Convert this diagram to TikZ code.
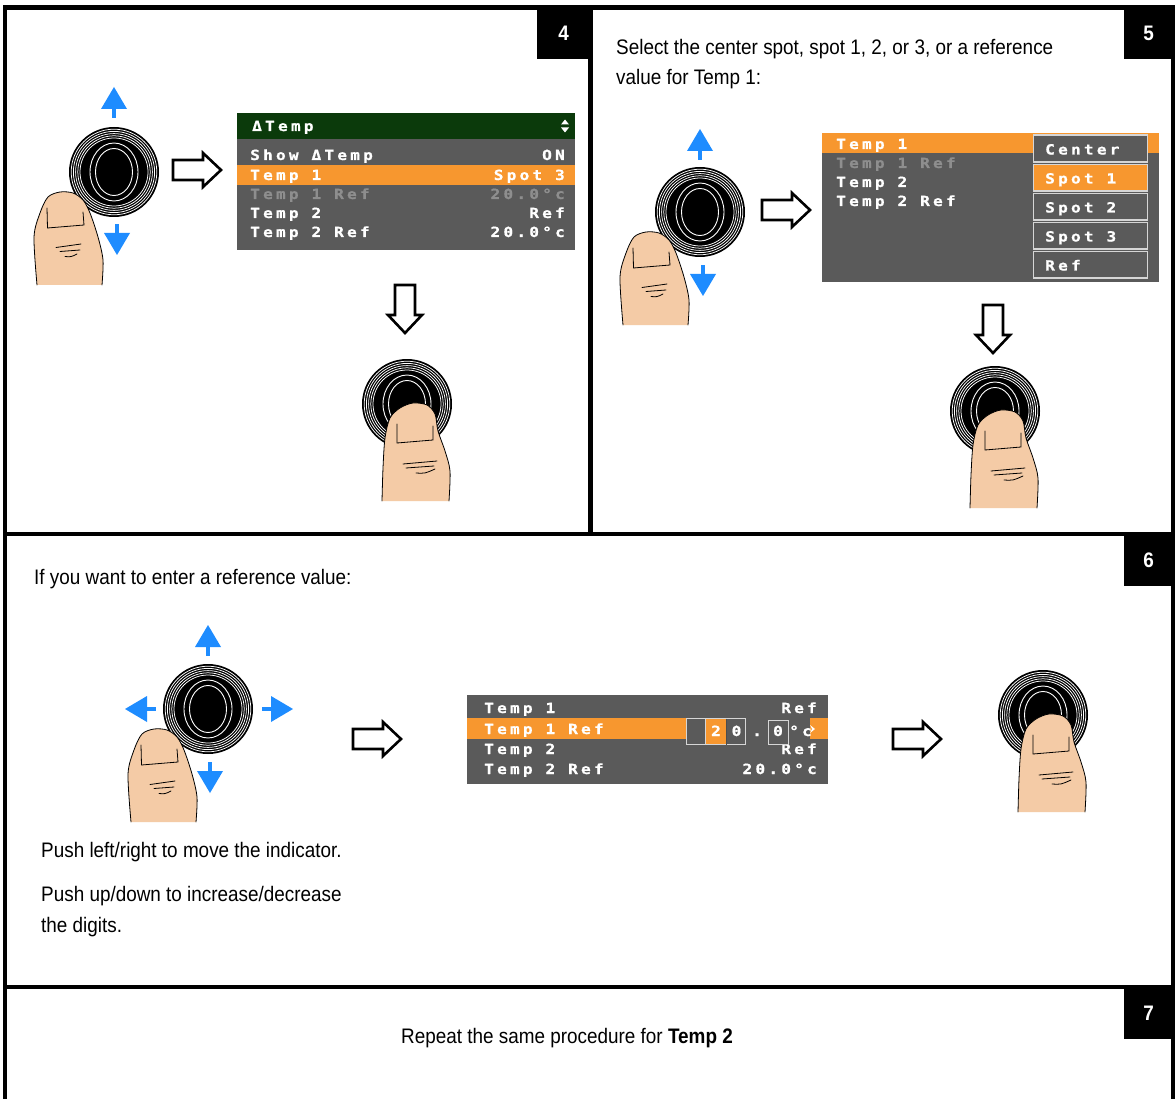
\documentclass[tikz,border=0pt]{standalone}
\usepackage{fontspec}
\setmainfont{Liberation Sans}[FakeStretch=0.9]
\newfontfamily\lcdfont{DejaVu Sans Mono}[FakeStretch=1.15, LetterSpace=23, FakeBold=1]
\definecolor{lcdgray}{HTML}{5A5A5A}
\definecolor{lcdorange}{HTML}{F7972F}
\definecolor{lcdgreen}{HTML}{0B3A0B}
\definecolor{lcddim}{HTML}{8E8E8E}
\definecolor{lcdline}{HTML}{D6D6D6}
\definecolor{joyblue}{HTML}{1E8CFF}
\definecolor{skin}{HTML}{F4CBA6}
\tikzset{
  frame/.style={line width=4.5pt, black, line join=miter},
  stepbox/.style={fill=black, text=white, inner sep=0pt, minimum width=49pt,
    minimum height=52pt, font=\bfseries\fontsize{21}{21}\selectfont},
  body/.style={anchor=base west, inner sep=0pt, font=\fontsize{21}{30}\selectfont},
  lcd/.style={inner sep=0pt, text=white, font=\lcdfont\bfseries\fontsize{14}{15}\selectfont},
  lcdl/.style={lcd, anchor=base west},
  lcdr/.style={lcd, anchor=base east},
  lcdc/.style={lcd, anchor=base},
  dim/.style={text=lcddim},
  menuitem/.style={draw=lcdline, line width=1.4pt},
  hollow/.style={fill=white, draw=black, line width=2.6pt, line join=miter},
  skinline/.style={black, line width=0.8pt, line cap=round},
  % a joystick knob with concentric rings, centred on the pic origin
  joystick/.pic={
    \fill[black] (0,0) circle (45);
    \foreach \r in {42.8,40.6,38.4,36.2,34} \draw[white, line width=0.75pt] (0,0) circle (\r);
    \draw[white, line width=0.9pt, fill=black] (0,0) ellipse (24 and 29);
    \draw[white, line width=0.9pt] (0,0) ellipse (18.5 and 23.5);
  },
  % blue direction arrow, tip at the origin, pointing up
  bluearrow/.pic={
    \fill[joyblue] (0,0) -- (13,22) -- (-13,22) -- cycle;
    \fill[joyblue] (-1.8,21) rectangle (1.8,31);
  },
  % hollow step arrow, tail centre at the origin, pointing right
  stepper/.pic={
    \draw[hollow] (0,-10) -- (30,-10) -- (30,-17) -- (48,0) -- (30,17) -- (30,10) -- (0,10) -- cycle;
  },
  % thumb resting on the lower left of a knob (origin = knob centre)
  sidethumb/.pic={
    \fill[skin] plot[smooth] coordinates {(-77,113) (-80,65) (-74,41) (-66,25) (-54,20) (-41,21) (-31,28) (-24,41) (-16,65) (-11,88) (-12,113)} -- cycle;
    \draw[skinline] plot[smooth] coordinates {(-77,113) (-80,65) (-74,41) (-66,25) (-54,20) (-41,21) (-31,28) (-24,41) (-16,65) (-11,88) (-12,113)};
    \draw[skinline] (-67,36) -- (-66.5,56) -- (-30,53) -- (-31,40);
    \draw[skinline] (-58,75.5) -- (-33,72);
    \draw[skinline] (-54,79.5) -- (-34,78);
    \draw[skinline] (-49,84.5) .. controls (-43,85) .. (-37,82);
  },
  % thumb pressing the knob from below (origin = knob centre)
  pressthumb/.pic={
    \fill[skin] plot[smooth] coordinates {(-25,97) (-24,64) (-22,34) (-17,14) (-7,4) (6,-1) (20,1) (28,10) (31,27) (38,47) (43,67) (42,97)} -- cycle;
    \draw[skinline] plot[smooth] coordinates {(-25,97) (-24,64) (-22,34) (-17,14) (-7,4) (6,-1) (20,1) (28,10) (31,27) (38,47) (43,67) (42,97)};
    \draw[skinline] (-10,20) -- (-10,39) -- (26,36) -- (26,22);
    \draw[skinline] (-4,60) -- (30,57);
    \draw[skinline] (-1,64) -- (27,62);
    \draw[skinline] (9,69) .. controls (18,69.5) .. (28,65);
  }
}
\begin{document}
\begin{tikzpicture}[x=1pt, y=-1pt]
\useasboundingbox (0,0) rectangle (1175,1099);
\fill[white] (0,0) rectangle (1175,1099);

% ---------- panel frames ----------
\draw[frame] (5,1099) -- (5,7.3) -- (1173.3,7.3) -- (1173.3,1099);
\draw[frame] (5,533.8) -- (1173.3,533.8);
\draw[frame] (5,987) -- (1173.3,987);
\draw[frame] (590.5,7.3) -- (590.5,533.8);

% ---------- step numbers ----------
\node[stepbox, minimum width=53.5pt] (n4) at (563.7,33) {4};
\node[stepbox] (n5) at (1148.5,33) {5};
\node[stepbox] (n6) at (1148.5,560) {6};
\node[stepbox] (n7) at (1148.5,1013) {7};

% ---------- step 4 ----------
\pic at (114,172) {joystick};
\pic at (114,87) {bluearrow};
\pic[rotate=180] at (117,255) {bluearrow};
\pic at (114,172) {sidethumb};
\pic at (173,170) {stepper};

\fill[lcdgray] (237,113) rectangle (575,250);
\fill[lcdgreen] (237,113) rectangle (575,139);
\fill[lcdorange] (237,165) rectangle (575,185);
\node[lcdl] (h4) at (252,131) {ΔTemp};
\fill[white] (565,119.5) -- (569,124.5) -- (561,124.5) -- cycle;
\fill[white] (561,127.5) -- (569,127.5) -- (565,132.5) -- cycle;
\node[lcdl] (a1) at (250,160) {Show ΔTemp};
\node[lcdl] (a2) at (250,180) {Temp 1};
\node[lcdl, dim] (a3) at (250,199) {Temp 1 Ref};
\node[lcdl] (a4) at (250,218) {Temp 2};
\node[lcdl] (a5) at (250,237) {Temp 2 Ref};
\node[lcdr] (b1) at (565,160) {ON};
\node[lcdr] (b2) at (565,180) {Spot 3};
\node[lcdr, dim] (b3) at (565,199) {20.0°c};
\node[lcdr] (b4) at (565,218) {Ref};
\node[lcdr] (b5) at (565,237) {20.0°c};

\pic[rotate=-90] at (405,285) {stepper};
\pic at (407,404) {joystick};
\pic at (407,404) {pressthumb};

% ---------- step 5 ----------
\node[body] (t5a) at (616,55) {Select the center spot, spot 1, 2, or 3, or a reference};
\node[body] (t5b) at (616,85) {value for Temp 1:};

\pic at (700,212) {joystick};
\pic at (700,129) {bluearrow};
\pic[rotate=180] at (703,296) {bluearrow};
\pic at (700,212) {sidethumb};
\pic at (762,210) {stepper};

\fill[lcdgray] (822,133) rectangle (1159,282);
\fill[lcdorange] (822,133) rectangle (1159,153);
\node[lcdl] (c1) at (836,149) {Temp 1};
\node[lcdl, dim] (c2) at (836,168) {Temp 1 Ref};
\node[lcdl] (c3) at (836,187) {Temp 2};
\node[lcdl] (c4) at (836,206) {Temp 2 Ref};
\filldraw[menuitem, fill=lcdgray] (1033.5,135) rectangle (1147.5,162);
\filldraw[menuitem, fill=lcdorange] (1033.5,164.5) rectangle (1147.5,191);
\filldraw[menuitem, fill=lcdgray] (1033.5,193.5) rectangle (1147.5,220);
\filldraw[menuitem, fill=lcdgray] (1033.5,222.5) rectangle (1147.5,249);
\filldraw[menuitem, fill=lcdgray] (1033.5,251.5) rectangle (1147.5,278);
\node[lcdl] (m1) at (1045,154.5) {Center};
\node[lcdl] (m2) at (1045,183.5) {Spot 1};
\node[lcdl] (m3) at (1045,212.5) {Spot 2};
\node[lcdl] (m4) at (1045,241.5) {Spot 3};
\node[lcdl] (m5) at (1045,270.5) {Ref};

\pic[rotate=-90] at (993,305) {stepper};
\pic at (995,411) {joystick};
\pic at (995,411) {pressthumb};

% ---------- step 6 ----------
\node[body] (t6) at (34,584.5) {If you want to enter a reference value:};

\pic at (208,709) {joystick};
\pic at (208,625) {bluearrow};
\pic[rotate=180] at (210,793) {bluearrow};
\pic[rotate=90] at (125,709) {bluearrow};
\pic[rotate=-90] at (293,709) {bluearrow};
\pic at (208,709) {sidethumb};

\pic at (353,739) {stepper};

\fill[lcdgray] (467,695) rectangle (828,784);
\fill[lcdorange] (467,718) rectangle (828,739);
\node[lcdl] (d1) at (484,713) {Temp 1};
\node[lcdl] (d2) at (484,734) {Temp 1 Ref};
\node[lcdl] (d3) at (484,754) {Temp 2};
\node[lcdl] (d4) at (484,774) {Temp 2 Ref};
\node[lcdr] (e1) at (817,713) {Ref};
\node[lcdr] (e3) at (817,754) {Ref};
\node[lcdr] (e4) at (817,774) {20.0°c};
% value being edited, digit by digit
\fill[lcdgray] (686,718) rectangle (810,745);
\fill[lcdorange] (705.5,718.5) rectangle (726,744.5);
\draw[lcdline, line width=1pt] (686,718.5) rectangle (745,744.5);
\draw[lcdline, line width=1pt] (705.5,718.5) -- (705.5,744.5);
\draw[black!70, line width=1pt] (726,718.5) -- (726,744.5);
\draw[lcdline, line width=1pt] (768,720) rectangle (788,744.5);
\node[lcdc] (g1) at (716,736) {2};
\node[lcdc] (g2) at (736.5,736) {0};
\node[lcdc] (g3) at (757,736) {.};
\node[lcdc] (g4) at (778,736) {0};
\node[lcd, anchor=base west] (g5) at (789,736) {°c};
\fill[white] (810,725) -- (815,729) -- (810,733) -- (812,729) -- cycle;

\pic at (893,739) {stepper};
\pic at (1043,715) {joystick};
\pic at (1043,715) {pressthumb};

\node[body] (t6b) at (41,857.5) {Push left/right to move the indicator.};
\node[body] (t6c) at (41,901.5) {Push up/down to increase/decrease};
\node[body] (t6d) at (41,932.5) {the digits.};

% ---------- step 7 ----------
\node[body] (t7) at (401,1043.5) {Repeat the same procedure for \textbf{Temp 2}};
\end{tikzpicture}
\end{document}
